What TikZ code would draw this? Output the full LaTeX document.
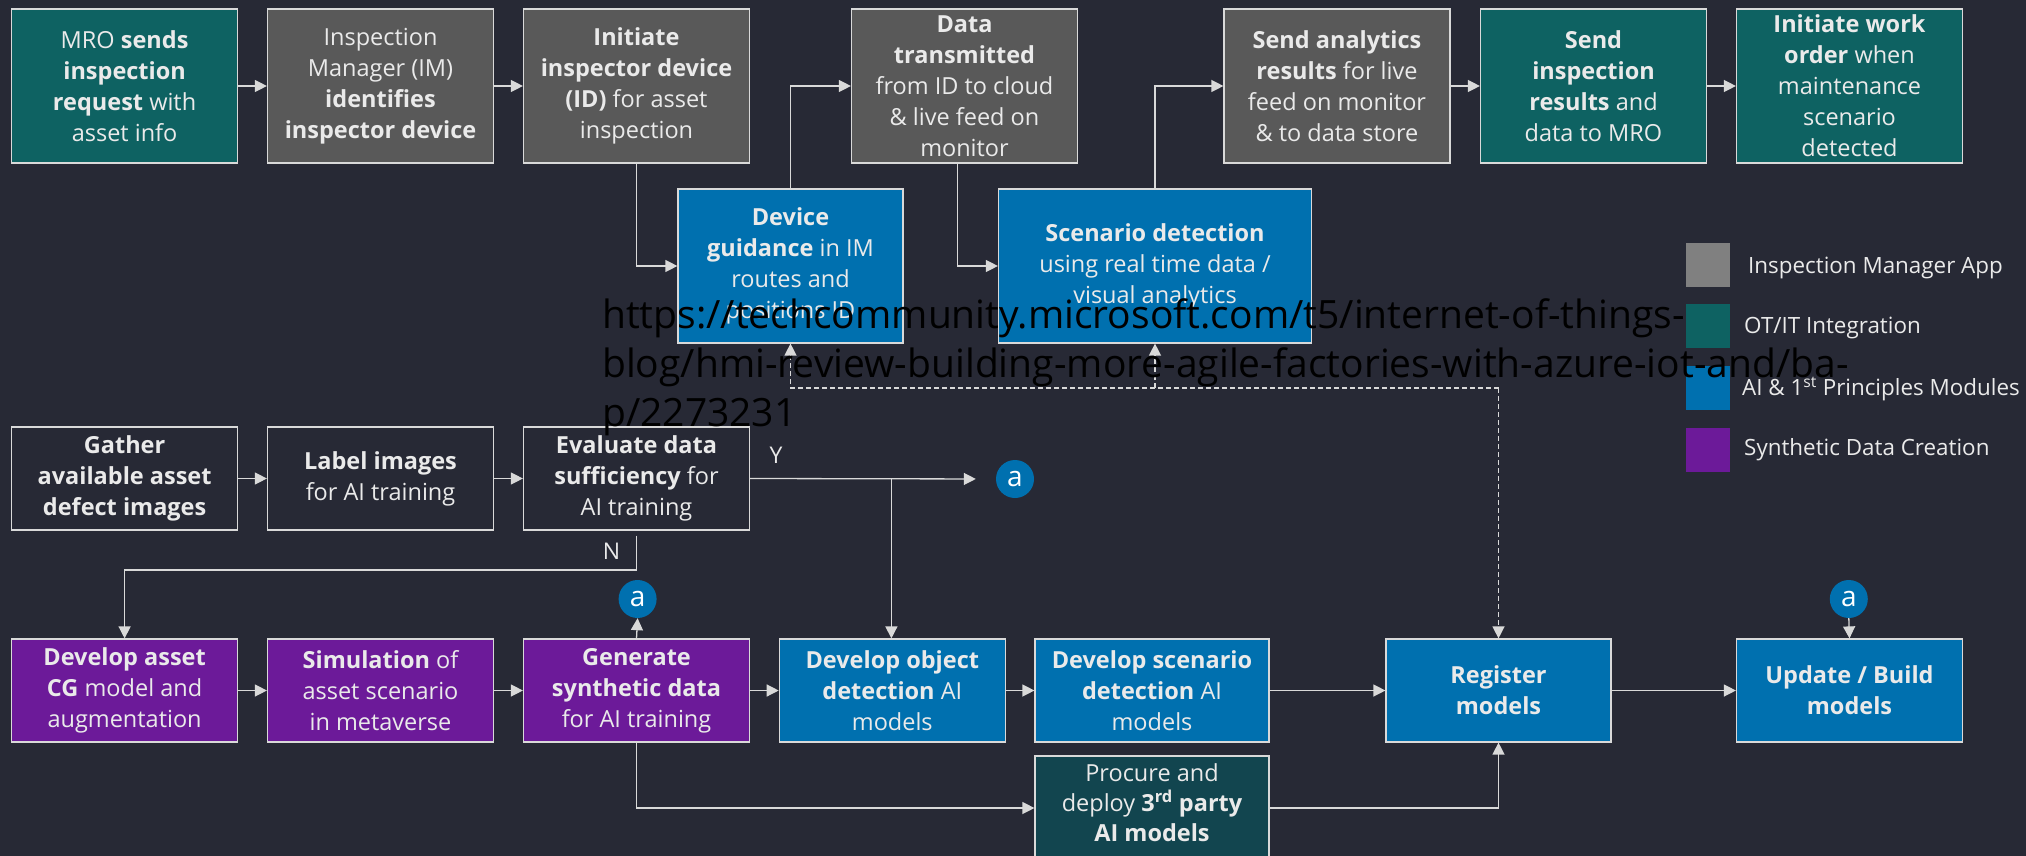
\documentclass[tikz,border=0pt]{standalone}
\usepackage{fontspec}
\setmainfont{Open Sans}
\usetikzlibrary{arrows.meta}
\definecolor{bg}{HTML}{272935}
\definecolor{boxgray}{HTML}{595959}
\definecolor{tealbox}{HTML}{0E6262}
\definecolor{bluebox}{HTML}{0070AF}
\definecolor{purpbox}{HTML}{6C1A99}
\definecolor{procbox}{HTML}{12454F}
\definecolor{leggray}{HTML}{808080}
\definecolor{txtc}{HTML}{EAEAEA}
\definecolor{lnc}{HTML}{D9D9D9}
\begin{document}
\begin{tikzpicture}[x=1pt,y=-1pt,
  box/.style={draw=lnc, line width=1.2pt, text=txtc, align=center, inner sep=0pt,
    font=\fontsize{23.5}{31}\selectfont},
  topbox/.style={box, minimum width=226pt, minimum height=154pt},
  lowbox/.style={box, minimum width=226pt, minimum height=103pt},
  txtnode/.style={text=txtc, align=center, inner sep=0pt, font=\fontsize{23.5}{30}\selectfont},
  arr/.style={draw=lnc, line width=1.3pt, -{Triangle[length=12pt,width=12pt]}},
  dsh/.style={arr, dashed, dash pattern=on 5pt off 3pt},
  circ/.style={circle, fill=bluebox, minimum size=38pt, inner sep=0pt, text=white,
    font=\fontsize{28}{28}\selectfont},
  legsq/.style={minimum size=44pt, inner sep=0pt},
  legtxt/.style={anchor=west, text=txtc, inner sep=0pt, font=\fontsize{22.4}{26}\selectfont},
  yn/.style={text=txtc, inner sep=0pt, font=\fontsize{23}{27}\selectfont}
]
\useasboundingbox (0,0) rectangle (2026,856);
\fill[bg] (0,0) rectangle (2026,856);
\begin{scope}
\clip (0,0) rectangle (2026,856);
% top row
\node[topbox, fill=tealbox] (mro) at (124.6,86) {MRO \textbf{sends}\\\textbf{inspection}\\\textbf{request} with\\asset info};
\node[topbox, fill=boxgray] (im) at (380.5,86) {Inspection\\Manager (IM)\\\textbf{identifies}\\\textbf{inspector device}};
\node[topbox, fill=boxgray] (init) at (636.5,86) {\textbf{Initiate}\\\textbf{inspector device}\\\textbf{(ID)} for asset\\inspection};
\node[topbox, fill=boxgray] (data) at (964.5,86) {\textbf{Data}\\\textbf{transmitted}\\from ID to cloud\\\& live feed on\\monitor};
\node[topbox, fill=boxgray] (sana) at (1337,86) {\textbf{Send analytics}\\\textbf{results} for live\\feed on monitor\\\& to data store};
\node[topbox, fill=tealbox] (sinsp) at (1593.5,86) {\textbf{Send}\\\textbf{inspection}\\\textbf{results} and\\data to MRO};
\node[topbox, fill=tealbox] (work) at (1849.5,86) {\textbf{Initiate work}\\\textbf{order} when\\maintenance\\scenario\\detected};
% second row
\node[box, fill=bluebox, minimum width=225pt, minimum height=154pt] (devg) at (790.5,266) {\textbf{Device}\\\textbf{guidance} in IM\\routes and\\positions ID};
\node[box, fill=bluebox, minimum width=313pt, minimum height=154pt] (scen) at (1155,266) {\textbf{Scenario detection}\\using real time data /\\visual analytics};
% third row
\node[lowbox, fill=bg] (gath) at (124.6,478.5) {\textbf{Gather}\\\textbf{available asset}\\\textbf{defect images}};
\node[lowbox, fill=bg] (lab) at (380.5,478.5) {\textbf{Label images}\\for AI training};
\node[lowbox, fill=bg] (eval) at (636.5,478.5) {\textbf{Evaluate data}\\\textbf{sufficiency} for\\AI training};
% fourth row
\node[lowbox, fill=purpbox] (dasset) at (124.6,690.5) {\textbf{Develop asset}\\\textbf{CG} model and\\augmentation};
\node[lowbox, fill=purpbox] (sim) at (380.5,690.5) {\textbf{Simulation} of\\asset scenario\\in metaverse};
\node[lowbox, fill=purpbox] (gen) at (636.5,690.5) {\textbf{Generate}\\\textbf{synthetic data}\\for AI training};
\node[lowbox, fill=bluebox] (dobj) at (892.3,690.5) {\textbf{Develop object}\\\textbf{detection} AI\\models};
\node[box, fill=bluebox, minimum width=234pt, minimum height=103pt] (dscen) at (1152,690.5) {\textbf{Develop scenario}\\\textbf{detection} AI\\models};
\node[box, fill=bluebox, minimum width=225pt, minimum height=103pt] (reg) at (1498.5,690.5) {\textbf{Register}\\\textbf{models}};
\node[lowbox, fill=bluebox] (upd) at (1849.5,690.5) {\textbf{Update / Build}\\\textbf{models}};
\node[box, fill=procbox, minimum width=234pt, minimum height=104pt] (proc) at (1152,808) {};
\node[txtnode] (proct) at (1152,803) {Procure and\\deploy \textbf{3\textsuperscript{rd} party}\\\textbf{AI models}};
% connector circles
\node[circ] (a1) at (1015,479) {a};
\node[circ] (a2) at (637.6,599) {a};
\node[circ] (a3) at (1848.8,599) {a};
% top connectors
\draw[arr] (mro) -- (im);
\draw[arr] (im) -- (init);
\draw[arr] (init.south) |- (devg.west);
\draw[arr] (devg.north) |- (data.west);
\draw[arr] ([xshift=-7pt]data.south) |- (scen.west);
\draw[arr] (scen.north) |- (sana.west);
\draw[arr] (sana) -- (sinsp);
\draw[arr] (sinsp) -- (work);
% dashed feedback
\coordinate (dj) at (1498.5,388);
\draw[dsh] (dj) -- (reg.north);
\draw[dsh] (dj) -| (devg.south);
\draw[dsh] (scen.south |- dj) -- (scen.south);
% third row connectors
\draw[arr] (gath) -- (lab);
\draw[arr] (lab) -- (eval);
\draw[arr, shorten >=20pt] (eval.east) -- (a1.west);
\coordinate (yb) at (891.4,478.5);
\draw[arr] (yb) -- (yb |- dobj.north);
\node[yn] (ylab) at (776,455) {Y};
\node[yn] (nlab) at (611.6,551) {N};
\draw[arr] ([yshift=-5pt]eval.south) -- (eval.south |- 0,570) -| (dasset.north);
% fourth row connectors
\draw[arr] (dasset) -- (sim);
\draw[arr] (sim) -- (gen);
\draw[arr] (gen) -- (dobj);
\draw[arr] (dobj) -- (dscen);
\draw[arr] (dscen) -- (reg);
\draw[arr] (reg) -- (upd);
\draw[arr] (gen.north) -- (a2.south);
\draw[arr] (a3.south) -- (upd.north);
\draw[arr] (gen.south) |- (proc.west);
\draw[arr] (proc.east) -| (reg.south);
% legend
\node[legsq, fill=leggray] (l1) at (1708,265.4) {};
\node[legsq, fill=tealbox] (l2) at (1708,326.4) {};
\node[legsq, fill=bluebox] (l3) at (1708,387.5) {};
\node[legsq, fill=purpbox] (l4) at (1708,450.4) {};
\node[legtxt] (t1) at (1748,268) {Inspection Manager App};
\node[legtxt] (t2) at (1744,328) {OT/IT Integration};
\node[legtxt] (t3) at (1742,389) {AI \& 1\textsuperscript{st} Principles Modules};
\node[legtxt] (t4) at (1744,450) {Synthetic Data Creation};
% url overlay
\node[anchor=north west, inner sep=0pt, align=left, text=black,
  font=\fontsize{39}{49}\selectfont] (url) at (602,298)
  {https://techcommunity.microsoft.com/t5/internet-of-things-\\blog/hmi-review-building-more-agile-factories-with-azure-iot-and/ba-\\p/2273231};
\end{scope}
\end{tikzpicture}
\end{document}
